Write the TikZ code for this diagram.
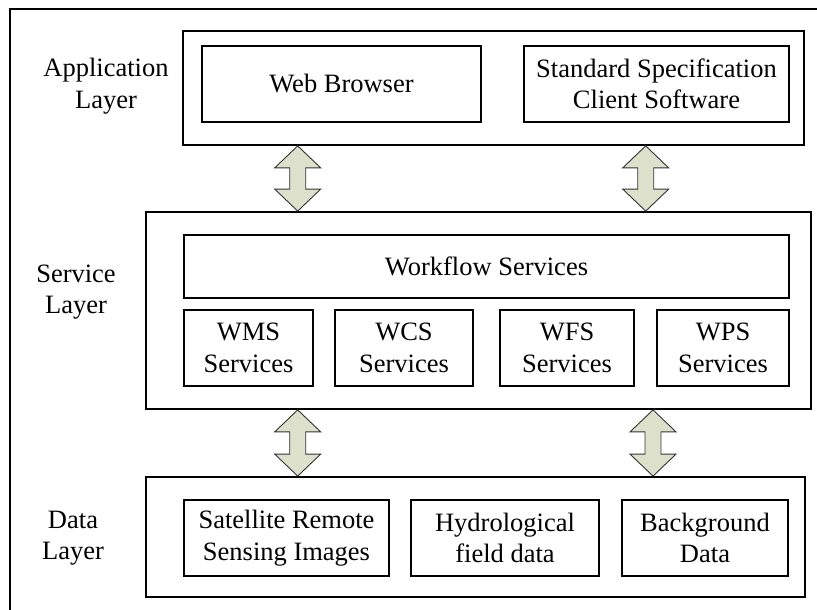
\documentclass[tikz,border=0pt]{standalone}
\usepackage{fontspec}
\setmainfont{Liberation Serif}
\usetikzlibrary{calc}
\definecolor{arrfill}{RGB}{221,225,203}
\tikzset{
  box/.style={draw=black, line width=1.8pt, inner sep=0pt, align=center, fill=white},
  lbl/.style={align=center, inner sep=0pt},
  dblarr/.style={draw=black!80, line width=0.9pt, fill=arrfill, line join=miter},
}
\newcommand\layerarrow[2]{%
  \filldraw[dblarr] let \p1=#1, \p2=#2 in
    (\x1,\y1) -- (\x1+23pt,\y1-22pt) -- (\x1+8pt,\y1-22pt) -- (\x1+8pt,\y2+22pt)
    -- (\x1+23pt,\y2+22pt) -- (\x1,\y2) -- (\x1-23pt,\y2+22pt) -- (\x1-8pt,\y2+22pt)
    -- (\x1-8pt,\y1-22pt) -- (\x1-23pt,\y1-22pt) -- cycle;}
\begin{document}
\begin{tikzpicture}[x=1pt,y=-1pt,font=\fontsize{26.5}{31.5}\selectfont]
\useasboundingbox (0,0) rectangle (817,610);
% outer frame (cut by the page on the right and bottom)
\coordinate (fbl) at (10,612);
\coordinate (ftl) at (10,9);
\coordinate (ftr) at (819,9);
\draw[line width=1.8pt] (fbl) -- (ftl) -- (ftr);

% application layer
\node[box, minimum width=621pt, minimum height=114pt] (app) at (493.5,88) {};
\node[box, minimum width=279pt, minimum height=76pt] (web) at (341.5,84) {Web Browser};
\node[box, minimum width=265pt, minimum height=76pt] (std) at (656.5,84) {Standard Specification\\Client Software};
\node[lbl] (applbl) at (106,86) {Application\\Layer};

% service layer
\node[box, minimum width=665pt, minimum height=197pt] (svc) at (478.5,310.5) {};
\node[box, minimum width=605pt, minimum height=63pt] (wf) at (486.5,266.5) {Workflow Services};
\node[box, minimum width=129pt, minimum height=76pt] (wms) at (248.5,348) {WMS\\Services};
\node[box, minimum width=138pt, minimum height=76pt] (wcs) at (404,348) {WCS\\Services};
\node[box, minimum width=134pt, minimum height=76pt] (wfs) at (567,348) {WFS\\Services};
\node[box, minimum width=132pt, minimum height=76pt] (wps) at (723,348) {WPS\\Services};
\node[lbl] (svclbl) at (76,292) {Service\\Layer};

% data layer
\node[box, minimum width=659pt, minimum height=120pt] (data) at (475.5,537) {};
\node[box, minimum width=205pt, minimum height=76pt] (sat) at (286.5,538) {Satellite Remote\\Sensing Images};
\node[box, minimum width=188pt, minimum height=76pt] (hyd) at (505,538) {Hydrological\\field data};
\node[box, minimum width=166pt, minimum height=76pt] (bg) at (705,538) {Background\\Data};
\node[lbl] (datalbl) at (73,538) {Data\\Layer};

% arrows between layers
\coordinate (xa) at (297.7,0);
\coordinate (xb) at (645.7,0);
\coordinate (xc) at (297.7,0);
\coordinate (xd) at (653,0);
\layerarrow{(xa |- app.south)}{(xa |- svc.north)}
\layerarrow{(xb |- app.south)}{(xb |- svc.north)}
\layerarrow{(xc |- svc.south)}{(xc |- data.north)}
\layerarrow{(xd |- svc.south)}{(xd |- data.north)}
\end{tikzpicture}
\end{document}
